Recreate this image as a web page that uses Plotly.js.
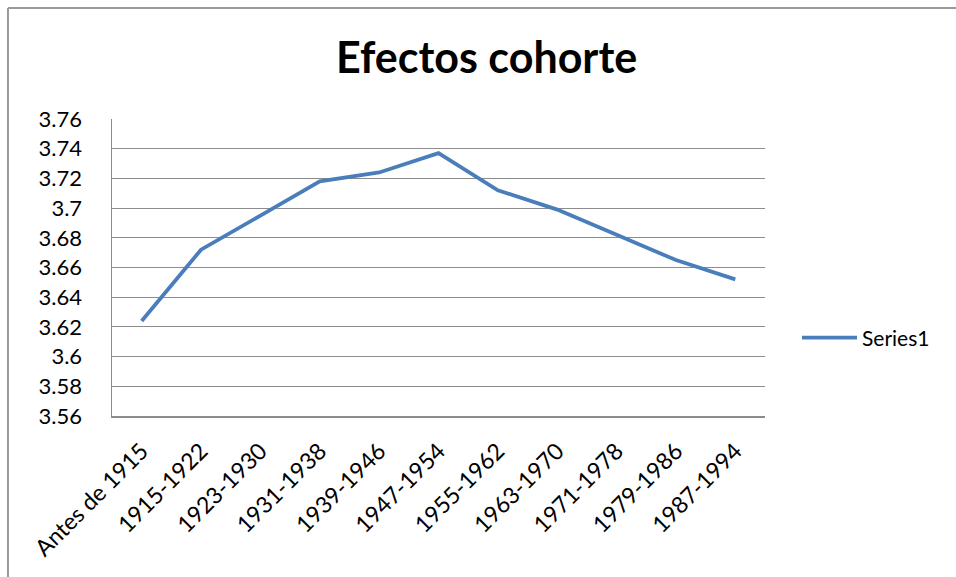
<!DOCTYPE html>
<html>
<head>
<meta charset="utf-8">
<script src="https://cdn.plot.ly/plotly-3.0.1.min.js"></script>
<style>html,body{margin:0;padding:0;background:#fff;}#chart{width:956px;height:577px;}</style>
</head>
<body>
<div id="chart"></div>
<script>
const categories = ["Antes de 1915","1915-1922","1923-1930","1931-1938","1939-1946","1947-1954","1955-1962","1963-1970","1971-1978","1979-1986","1987-1994"];
const series1 = [3.624, 3.672, 3.695, 3.718, 3.724, 3.737, 3.712, 3.699, 3.682, 3.665, 3.652];
const yTickVals = [3.56, 3.58, 3.6, 3.62, 3.64, 3.66, 3.68, 3.7, 3.72, 3.74, 3.76];
const yTickText = ["3.56","3.58","3.6","3.62","3.64","3.66","3.68","3.7","3.72","3.74","3.76"];

const trace = {
  x: categories, y: series1, type: "scatter", mode: "lines", name: "Series1",
  line: {color: "#4a7ebb", width: 3.8}
};
const grey = "#8c8c8c";
const layout = {
  width: 956, height: 577,
  margin: {l: 112, r: 191, t: 119, b: 161},
  paper_bgcolor: "#fff", plot_bgcolor: "#fff",
  font: {family: "Lato, 'Open Sans', sans-serif", color: "#000", size: 22},
  title: {text: "Efectos cohorte", font: {family: "Lato, sans-serif", size: 43, color: "#000", weight: "bold"},
          x: 0.509, xanchor: "center", y: 0.9, yanchor: "middle", xref: "container", yref: "container"},
  xaxis: {type: "category", tickangle: -45, showgrid: false, showline: true, linecolor: grey, linewidth: 1.5,
          ticks: "", tickfont: {size: 23}, ticklabelstandoff: 11, range: [-0.5, 10.5], fixedrange: true},
  yaxis: {range: [3.56, 3.76], tickvals: yTickVals, ticktext: yTickText, showgrid: true, gridcolor: grey, gridwidth: 1.2,
          showline: true, linecolor: grey, linewidth: 1.5, ticks: "", ticklabelstandoff: 24, zeroline: false,
          tickfont: {size: 22}, fixedrange: true},
  showlegend: true,
  legend: {x: 1.049, xanchor: "left", y: 0.2626, yanchor: "middle", font: {size: 21}, bgcolor: "rgba(0,0,0,0)", itemwidth: 55},
  shapes: [
    {type: "line", xref: "paper", yref: "paper", x0: -0.1593, x1: 1.3, y0: 1.3737, y1: 1.3737, line: {color: "#9a9a9a", width: 2}},
    {type: "line", xref: "paper", yref: "paper", x0: -0.1593, x1: -0.1593, y0: 1.3737, y1: -0.6, line: {color: "#9a9a9a", width: 2}}
  ]
};
Plotly.newPlot("chart", [trace], layout, {displayModeBar: false, staticPlot: true});
</script>
</body>
</html>
